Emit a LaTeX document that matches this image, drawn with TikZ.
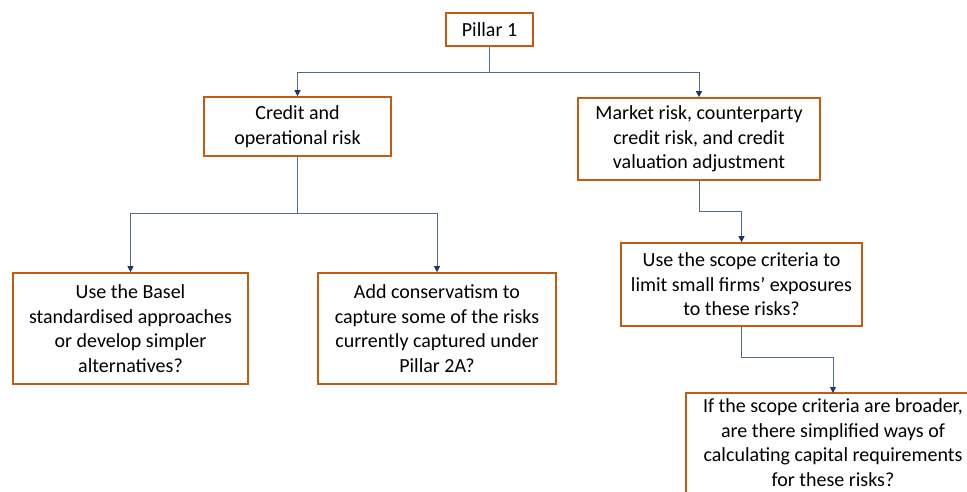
\documentclass[tikz,border=0pt]{standalone}
\usepackage{fontspec}
\setmainfont{Carlito}
\usetikzlibrary{arrows.meta}
\definecolor{boxorange}{RGB}{197,90,17}
\definecolor{linegrey}{RGB}{84,106,138}
\definecolor{tipnavy}{RGB}{31,56,100}
\tikzset{
  box/.style={draw=boxorange, line width=1.6pt, fill=white, align=center, inner sep=2pt,
    font=\fontsize{20}{24.5}\selectfont, text=black},
  frame/.style={draw=boxorange, line width=1.6pt},
  conn/.style={draw=linegrey, line width=0.8pt, -{Triangle[length=6pt,width=6pt,color=tipnavy]}}
}
\begin{document}
\begin{tikzpicture}[x=1pt,y=-1pt]
\useasboundingbox (0,0) rectangle (967,492);
\clip (0,0) rectangle (967,492);
\node[box, minimum width=87pt, minimum height=33pt] (p1) at (489.5,29.5) {Pillar 1};
\node[box, minimum width=187pt, minimum height=59pt] (credit) at (297.5,126.5) {Credit and\\operational risk};
\node[box, minimum width=242pt, minimum height=82pt] (market) at (699,139) {Market risk, counterparty\\credit risk, and credit\\valuation adjustment};
\node[box, minimum width=235pt, minimum height=111pt] (basel) at (130.5,328.5) {Use the Basel\\standardised approaches\\or develop simpler\\alternatives?};
\node[box, minimum width=238pt, minimum height=111pt] (cons) at (437,328.5) {Add conservatism to\\capture some of the risks\\currently captured under\\Pillar 2A?};
\node[box, minimum width=241pt, minimum height=83pt] (scope) at (741.5,284.5) {Use the scope criteria to\\limit small firms’ exposures\\to these risks?};
\node[box, draw=none, minimum width=292pt, inner ysep=5pt, anchor=north] (final) at (833,393) {If the scope criteria are broader,\\are there simplified ways of\\calculating capital requirements\\for these risks?};
\draw[frame] (final.north west) rectangle ([yshift=-20pt]final.south east);
\draw[conn] (p1.south) -- ++(0,26) -| (credit.north);
\draw[conn] (p1.south) -- ++(0,26) -| (market.north);
\draw[conn] (credit.south) -- ++(0,57) -| (basel.north);
\draw[conn] (credit.south) -- ++(0,57) -| (cons.north);
\draw[conn] (market.south) -- ++(0,31) -| (scope.north);
\draw[conn] (scope.south) -- ++(0,31) -| (final.north);
\end{tikzpicture}
\end{document}
